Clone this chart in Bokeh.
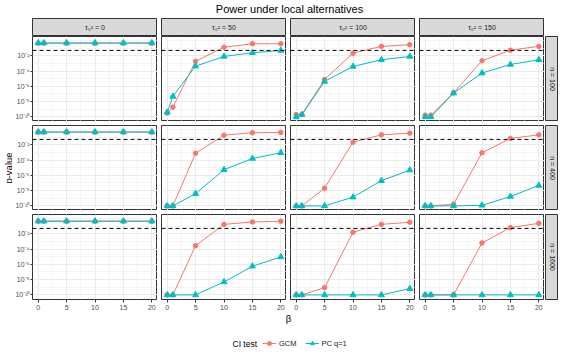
import math
from bokeh.plotting import figure
from bokeh.layouts import gridplot, row, column
from bokeh.models import (Range1d, FixedTicker, CustomJSTickFormatter, Span, Label,
                          Legend, LegendItem)
from bokeh.embed import file_html
from bokeh.resources import INLINE

# ---------------- data ----------------
beta = [0, 1, 5, 10, 15, 20]
tau_labels = ["τ₀² = 0", "τ₀² = 50", "τ₀² = 100", "τ₀² = 150"]
n_labels = ["n = 100", "n = 400", "n = 1600"]
alpha_level = 0.05
y_major = [1e-10, 1e-8, 1e-6, 1e-4, 1e-2]
y_minor = [1e-9, 1e-7, 1e-5, 1e-3, 1e-1, 1.0]
x_major = [0, 5, 10, 15, 20]
x_minor = [2.5, 7.5, 12.5, 17.5]

# GCM p-values (rows: n = 100, 400, 1600; columns: tau0^2 = 0, 50, 100, 150)
gcm_n100_t0 = [0.45, 0.45, 0.45, 0.45, 0.45, 0.45]
gcm_n100_t50 = [3.2e-10, 1.9e-9, 1.9e-3, 0.13, 0.37, 0.37]
gcm_n100_t100 = [2.0e-10, 2.1e-10, 7.9e-6, 0.022, 0.17, 0.28]
gcm_n100_t150 = [1.7e-10, 1.7e-10, 1.4e-7, 2.2e-3, 0.054, 0.17]
gcm_n400_t0 = [0.45, 0.45, 0.45, 0.45, 0.45, 0.45]
gcm_n400_t50 = [1e-10, 1e-10, 7.9e-4, 0.18, 0.37, 0.41]
gcm_n400_t100 = [1e-10, 1e-10, 2.1e-8, 0.022, 0.20, 0.33]
gcm_n400_t150 = [1e-10, 1e-10, 1.7e-10, 8.9e-4, 0.066, 0.20]
gcm_n1600_t0 = [0.43, 0.43, 0.43, 0.43, 0.43, 0.43]
gcm_n1600_t50 = [1e-10, 1e-10, 2.8e-4, 0.17, 0.35, 0.43]
gcm_n1600_t100 = [1e-10, 1e-10, 8.9e-10, 0.016, 0.17, 0.32]
gcm_n1600_t150 = [1e-10, 1e-10, 1e-10, 6.3e-4, 0.063, 0.23]

# PC q=1 p-values
pc_n100_t0 = [0.47, 0.47, 0.47, 0.47, 0.47, 0.47]
pc_n100_t50 = [4.0e-10, 4.8e-8, 4.4e-4, 8.1e-3, 0.025, 0.049]
pc_n100_t100 = [1e-10, 2.0e-10, 4.4e-6, 4.0e-4, 3.0e-3, 8.1e-3]
pc_n100_t150 = [1e-10, 1e-10, 1.3e-7, 5.4e-5, 7.2e-4, 3.0e-3]
pc_n400_t0 = [0.47, 0.47, 0.47, 0.47, 0.47, 0.47]
pc_n400_t50 = [1e-10, 1e-10, 4.0e-9, 5.4e-6, 1.6e-4, 8.9e-4]
pc_n400_t100 = [1e-10, 1e-10, 1e-10, 1.4e-9, 2.0e-7, 4.8e-6]
pc_n400_t150 = [1e-10, 1e-10, 1e-10, 1.2e-10, 1.7e-9, 4.8e-8]
pc_n1600_t0 = [0.45, 0.45, 0.45, 0.45, 0.45, 0.45]
pc_n1600_t50 = [1e-10, 1e-10, 1e-10, 5.0e-9, 5.6e-7, 9.3e-6]
pc_n1600_t100 = [1e-10, 1e-10, 1e-10, 1e-10, 1e-10, 6.6e-10]
pc_n1600_t150 = [1e-10, 1e-10, 1e-10, 1e-10, 1e-10, 1e-10]

gcm = [[gcm_n100_t0, gcm_n100_t50, gcm_n100_t100, gcm_n100_t150],
       [gcm_n400_t0, gcm_n400_t50, gcm_n400_t100, gcm_n400_t150],
       [gcm_n1600_t0, gcm_n1600_t50, gcm_n1600_t100, gcm_n1600_t150]]
pc = [[pc_n100_t0, pc_n100_t50, pc_n100_t100, pc_n100_t150],
      [pc_n400_t0, pc_n400_t50, pc_n400_t100, pc_n400_t150],
      [pc_n1600_t0, pc_n1600_t50, pc_n1600_t100, pc_n1600_t150]]

# ---------------- style / layout ----------------
FONT = "Liberation Sans"
GCM_COLOR = "#F8766D"
PC_COLOR = "#00BFC4"
BORDER = "#333333"
GRID = "#EBEBEB"
W, H = 125, 85
LEFT0, GAP, XAX = 20, 4, 14
STRIP_H, RSTRIP_W = 18, 13
YLAB_W = 12
TITLE_H = 18
BOT_H = 44

xr = Range1d(-1, 21)
yr = Range1d(10 ** -10.6, 10 ** 0.52)

sup_js = """
const sup = {"-": "\u207b", "0": "\u2070", "1": "\u00b9", "2": "\u00b2", "3": "\u00b3",
             "4": "\u2074", "5": "\u2075", "6": "\u2076", "7": "\u2077", "8": "\u2078", "9": "\u2079"};
const e = Math.round(Math.log10(tick));
return "10" + String(e).split("").map((ch) => sup[ch]).join("");
"""


def style_axis(ax):
    ax.axis_line_color = None
    ax.major_tick_line_color = BORDER
    ax.major_tick_in = 0
    ax.major_tick_out = 2
    ax.minor_tick_line_color = None
    ax.major_label_text_font_size = "7px"
    ax.major_label_text_color = "#4D4D4D"
    ax.major_label_text_font = FONT
    ax.major_label_standoff = 2


def panel(r, c):
    left = LEFT0 if c == 0 else GAP
    top = 0 if r == 0 else GAP
    bottom = XAX if r == 2 else 0
    p = figure(width=left + W, height=top + H + bottom, x_range=xr, y_range=yr,
               y_axis_type="log",
               x_axis_location="below" if r == 2 else None,
               y_axis_location="left" if c == 0 else None,
               output_backend="svg", toolbar_location=None,
               min_border_left=left, min_border_right=0,
               min_border_top=top, min_border_bottom=bottom)
    p.background_fill_color = "white"
    p.border_fill_color = "white"
    p.outline_line_color = BORDER
    p.outline_line_width = 1
    p.xgrid.ticker = FixedTicker(ticks=x_major, minor_ticks=x_minor)
    p.ygrid.ticker = FixedTicker(ticks=y_major, minor_ticks=y_minor)
    for g in p.grid:
        g.grid_line_color = GRID
        g.grid_line_width = 1
        g.minor_grid_line_color = GRID
        g.minor_grid_line_width = 0.5
    if c == 0:
        ax = p.yaxis[0]
        ax.ticker = FixedTicker(ticks=y_major)
        ax.formatter = CustomJSTickFormatter(code=sup_js)
        style_axis(ax)
        ax.major_label_standoff = 1
    if r == 2:
        ax = p.xaxis[0]
        ax.ticker = FixedTicker(ticks=x_major)
        style_axis(ax)
        ax.major_tick_out = 3
    p.add_layout(Span(location=alpha_level, dimension="width", line_color="black",
                      line_dash="4 3", line_width=1))
    p.line(beta, gcm[r][c], line_color=GCM_COLOR, line_width=1)
    p.line(beta, pc[r][c], line_color=PC_COLOR, line_width=1)
    p.scatter(beta, gcm[r][c], marker="circle", size=4.5,
              fill_color=GCM_COLOR, line_color=GCM_COLOR)
    p.scatter(beta, pc[r][c], marker="triangle", size=6,
              fill_color=PC_COLOR, line_color=PC_COLOR)
    return p


def blank_fig(width, height, **kw):
    f = figure(width=width, height=height, x_range=Range1d(0, 1), y_range=Range1d(0, 1),
               x_axis_location=None, y_axis_location=None,
               output_backend="svg", toolbar_location=None,
               min_border_left=kw.get("left", 0), min_border_right=kw.get("right", 0),
               min_border_top=kw.get("top", 0), min_border_bottom=kw.get("bottom", 0))
    f.grid.visible = False
    f.outline_line_color = None
    f.background_fill_color = "white"
    f.border_fill_color = "white"
    return f


def strip_top(c):
    left = LEFT0 if c == 0 else GAP
    s = blank_fig(left + W, STRIP_H, left=left)
    s.background_fill_color = "#D9D9D9"
    s.outline_line_color = BORDER
    s.add_layout(Label(x=0.5, y=0.5, text=tau_labels[c], text_align="center",
                       text_baseline="middle", text_font_size="7px",
                       text_color="#1A1A1A", text_font=FONT))
    return s


def strip_right(r):
    top = 0 if r == 0 else GAP
    bottom = XAX if r == 2 else 0
    s = blank_fig(1 + RSTRIP_W, top + H + bottom, left=1, top=top, bottom=bottom)
    s.background_fill_color = "#D9D9D9"
    s.outline_line_color = BORDER
    s.add_layout(Label(x=0.5, y=0.5, text=n_labels[r], text_align="center",
                       text_baseline="middle", text_font_size="7px", angle=-math.pi / 2,
                       text_color="#1A1A1A", text_font=FONT))
    return s


children = [[strip_top(c) for c in range(4)] + [None]]
for r in range(3):
    children.append([panel(r, c) for c in range(4)] + [strip_right(r)])
grid = gridplot(children, toolbar_location=None)

total_w = YLAB_W + (LEFT0 + W) + 3 * (GAP + W) + 1 + RSTRIP_W
grid_h = STRIP_H + H + (GAP + H) + (GAP + H + XAX)
panel_center_x = YLAB_W + LEFT0 + (4 * W + 3 * GAP) / 2.0

# title
tf = figure(width=total_w, height=TITLE_H, x_range=Range1d(0, total_w), y_range=Range1d(0, TITLE_H),
            x_axis_location=None, y_axis_location=None, output_backend="svg",
            toolbar_location=None, min_border=0)
tf.grid.visible = False
tf.outline_line_color = None
tf.add_layout(Label(x=panel_center_x + 1, y=TITLE_H - 8.5, text="Power under local alternatives",
                    text_align="center", text_baseline="middle", text_font_size="11px",
                    text_color="black", text_font=FONT))

# y label
yf = figure(width=YLAB_W, height=grid_h, x_range=Range1d(0, YLAB_W), y_range=Range1d(0, grid_h),
            x_axis_location=None, y_axis_location=None, output_backend="svg",
            toolbar_location=None, min_border=0)
yf.grid.visible = False
yf.outline_line_color = None
panel_mid_from_top = STRIP_H + (3 * H + 2 * GAP) / 2.0
yf.add_layout(Label(x=7.5, y=grid_h - panel_mid_from_top, text="p-value",
                    text_align="center", text_baseline="middle", text_font_size="9.5px",
                    angle=math.pi / 2, text_color="black", text_font=FONT))

# bottom: x label + legend
bf = figure(width=total_w, height=BOT_H, x_range=Range1d(0, total_w), y_range=Range1d(0, BOT_H),
            x_axis_location=None, y_axis_location=None, output_backend="svg",
            toolbar_location=None, min_border=0)
bf.grid.visible = False
bf.outline_line_color = None
bf.add_layout(Label(x=panel_center_x, y=BOT_H - 5, text="β", text_align="center",
                    text_baseline="middle", text_font_size="9.5px", text_color="black",
                    text_font=FONT))
bf.add_layout(Label(x=panel_center_x - 56, y=14, text="CI test", text_align="left",
                    text_baseline="middle", text_font_size="8.5px", text_color="black",
                    text_font=FONT))
# hidden renderers that only supply the legend keys
l1 = bf.line(beta, gcm_n100_t50, line_color=GCM_COLOR, line_width=1, visible=False)
s1 = bf.scatter(beta, gcm_n100_t50, marker="circle", size=4.5, fill_color=GCM_COLOR,
                line_color=GCM_COLOR, visible=False)
l2 = bf.line(beta, pc_n100_t50, line_color=PC_COLOR, line_width=1, visible=False)
s2 = bf.scatter(beta, pc_n100_t50, marker="triangle", size=6, fill_color=PC_COLOR,
                line_color=PC_COLOR, visible=False)
legend = Legend(items=[LegendItem(label="GCM", renderers=[l1, s1]),
                       LegendItem(label="PC q=1", renderers=[l2, s2])],
                orientation="horizontal", location=(panel_center_x - 26, 9),
                padding=0, margin=0, spacing=8, glyph_width=14, glyph_height=10,
                label_height=10, label_width=0, label_standoff=3, border_line_color=None,
                background_fill_alpha=0, inactive_fill_alpha=0,
                label_text_font_size="7.5px",
                label_text_color="#1A1A1A", label_text_font=FONT)
bf.add_layout(legend)

layout = column(tf, row(yf, grid), bf)

with open("out.html", "w", encoding="utf-8") as fh:
    fh.write(file_html(layout, INLINE))
